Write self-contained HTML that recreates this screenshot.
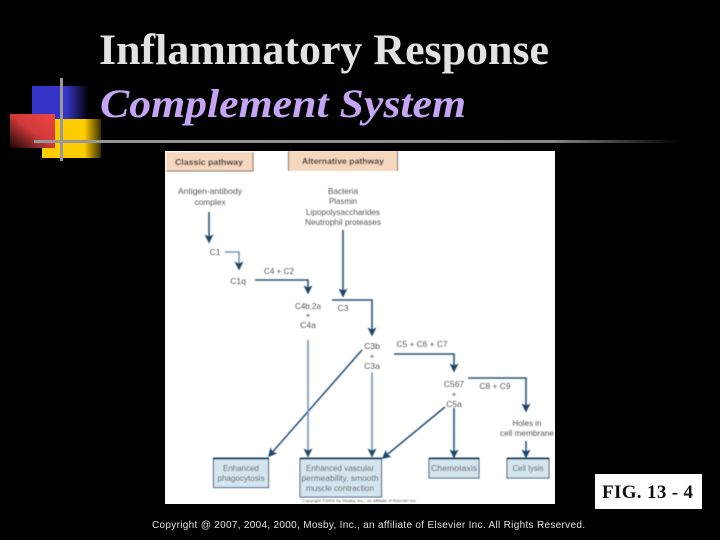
<!DOCTYPE html>
<html>
<head>
<meta charset="utf-8">
<style>
html,body{margin:0;padding:0;background:#000;width:720px;height:540px;overflow:hidden}
svg{display:block}
.s{font-family:"Liberation Sans",sans-serif;font-size:8.5px;fill:#555;text-anchor:middle}
.b{font-family:"Liberation Sans",sans-serif;font-size:8.500px;font-weight:bold;fill:#222;text-anchor:middle}
.l{fill:none;stroke:#2c5378;stroke-width:1.6}
.lt{fill:none;stroke:#6f97b8;stroke-width:1.6}
.box{fill:#d5e5ef;stroke:#2c5378;stroke-width:1}
.top{stroke:#1f4468;stroke-width:2}
</style>
</head>
<body>
<svg width="720" height="540" viewBox="0 0 720 540" xmlns="http://www.w3.org/2000/svg">
<defs>
<linearGradient id="bl" x1="0" x2="1" y1="0" y2="0"><stop offset="0" stop-color="#3434c8"/><stop offset=".6" stop-color="#3434c8"/><stop offset="1" stop-color="#000"/></linearGradient>
<linearGradient id="ye" x1="0" x2="1" y1="0" y2="0"><stop offset="0" stop-color="#ffcc00"/><stop offset=".72" stop-color="#ffcc00"/><stop offset="1" stop-color="#3a3000"/></linearGradient>
<linearGradient id="re" x1="1" x2="0" y1="0" y2="1"><stop offset="0" stop-color="#ee4444"/><stop offset=".5" stop-color="#d03a3a"/><stop offset="1" stop-color="#1a0606"/></linearGradient>
<linearGradient id="hl" x1="0" x2="1" y1="0" y2="0"><stop offset="0" stop-color="#999"/><stop offset=".8" stop-color="#888"/><stop offset="1" stop-color="#000"/></linearGradient>
<marker id="a" markerWidth="9" markerHeight="9" refX="7.5" refY="4.500" orient="auto" markerUnits="userSpaceOnUse"><path d="M0 0L9 4.500L0 9L2 4.500Z" fill="#1f4468"/></marker>
<filter id="f" x="0" y="0" width="100%" height="100%"><feGaussianBlur stdDeviation="0.5"/></filter>
<filter id="g" x="0" y="0" width="100%" height="100%"><feGaussianBlur stdDeviation="0.3"/></filter>
</defs>

<!-- Logo -->
<rect x="32" y="86" width="57" height="34" fill="url(#bl)"/>
<rect x="42" y="119" width="59" height="39" fill="url(#ye)"/>
<rect x="10" y="114" width="45" height="34" fill="url(#re)"/>
<rect x="34" y="140" width="646" height="3" fill="url(#hl)"/>
<rect x="60" y="78" width="3" height="83" fill="#999"/>

<!-- Title -->
<g filter="url(#g)">
<text x="99" y="64" font-family="'Liberation Serif',serif" font-weight="bold" font-size="43" fill="#e2e2e2" textLength="450" lengthAdjust="spacingAndGlyphs">Inflammatory Response</text>
<text x="100" y="117" font-family="'Liberation Serif',serif" font-weight="bold" font-style="italic" font-size="40" fill="#c4a4f4" textLength="366" lengthAdjust="spacingAndGlyphs">Complement System</text>
</g>

<!-- Figure -->
<rect x="165" y="151" width="390" height="353" fill="#fff"/>
<g filter="url(#f)">
<path d="M166 152H253V171H166Z" fill="#f5d7bd"/>
<path d="M166 171H253V152" fill="none" stroke="#7a6c60"/>
<path d="M288 151H398V171H288Z" fill="#f5d7bd"/>
<path d="M288.500 171V151M397.500 151V171" fill="none" stroke="#7a6c60"/>
<text class="b" x="209" y="165" textLength="68" lengthAdjust="spacingAndGlyphs">Classic pathway</text>
<text class="b" x="343" y="164" textLength="82" lengthAdjust="spacingAndGlyphs">Alternative pathway</text>

<text class="s" x="210" y="194" textLength="64" lengthAdjust="spacingAndGlyphs">Antigen-antibody</text>
<text class="s" x="210" y="205" textLength="31" lengthAdjust="spacingAndGlyphs">complex</text>
<text class="s" x="343" y="194" textLength="30" lengthAdjust="spacingAndGlyphs">Bacteria</text>
<text class="s" x="343" y="204" textLength="28" lengthAdjust="spacingAndGlyphs">Plasmin</text>
<text class="s" x="343" y="215" textLength="74" lengthAdjust="spacingAndGlyphs">Lipopolysaccharides</text>
<text class="s" x="343" y="225" textLength="76" lengthAdjust="spacingAndGlyphs">Neutrophil proteases</text>
<text class="s" x="215" y="255">C1</text>
<text class="s" x="238" y="284">C1q</text>
<text class="s" x="279" y="274" textLength="30" lengthAdjust="spacingAndGlyphs">C4 + C2</text>
<text class="s" x="308" y="309" textLength="26" lengthAdjust="spacingAndGlyphs">C4b,2a</text>
<text class="s" x="308" y="318">+</text>
<text class="s" x="308" y="328">C4a</text>
<text class="s" x="343" y="311">C3</text>
<text class="s" x="372" y="349">C3b</text>
<text class="s" x="372" y="359">+</text>
<text class="s" x="372" y="369">C3a</text>
<text class="s" x="422" y="347" textLength="51" lengthAdjust="spacingAndGlyphs">C5 + C6 + C7</text>
<text class="s" x="454" y="387">C567</text>
<text class="s" x="454" y="397">+</text>
<text class="s" x="454" y="407">C5a</text>
<text class="s" x="495" y="389" textLength="31" lengthAdjust="spacingAndGlyphs">C8 + C9</text>
<text class="s" x="527" y="426" textLength="29" lengthAdjust="spacingAndGlyphs">Holes in</text>
<text class="s" x="527" y="436" textLength="54" lengthAdjust="spacingAndGlyphs">cell membrane</text>

<path class="l" d="M209 212V242" marker-end="url(#a)"/>
<path class="lt" d="M225 252H239V269" marker-end="url(#a)"/>
<path class="l" d="M255 280H308V293" marker-end="url(#a)"/>
<path class="l" d="M343 230V296" marker-end="url(#a)"/>
<path class="l" d="M332 300H372V335" marker-end="url(#a)"/>
<path class="l" d="M362 350L269 456" marker-end="url(#a)"/>
<path class="lt" d="M308 340V456" marker-end="url(#a)"/>
<path class="lt" d="M372 372V456" marker-end="url(#a)"/>
<path class="l" d="M394 354H454V371" marker-end="url(#a)"/>
<path class="l" d="M468 378H526V411" marker-end="url(#a)"/>
<path class="l" d="M445 407L383 458" marker-end="url(#a)"/>
<path class="l" d="M454 408V457" marker-end="url(#a)"/>
<path class="l" d="M526 441V457" marker-end="url(#a)"/>

<rect class="box" x="213.500" y="458.500" width="55" height="29"/>
<path class="top" d="M213 458.500H269"/>
<rect class="box" x="300" y="458.500" width="81.500" height="38.500"/>
<path class="top" d="M300 458.500H382"/>
<rect class="box" x="429" y="458.500" width="50" height="19.500"/>
<path class="top" d="M429 458.500H479"/>
<rect class="box" x="507" y="458.500" width="42" height="19.500"/>
<path class="top" d="M507 458.500H549"/>

<text class="s" x="241" y="471" textLength="36" lengthAdjust="spacingAndGlyphs">Enhanced</text>
<text class="s" x="241" y="481" textLength="47" lengthAdjust="spacingAndGlyphs">phagocytosis</text>
<text class="s" x="340" y="471" textLength="68" lengthAdjust="spacingAndGlyphs">Enhanced vascular</text>
<text class="s" x="340" y="481" textLength="77" lengthAdjust="spacingAndGlyphs">permeability, smooth</text>
<text class="s" x="340" y="491" textLength="68" lengthAdjust="spacingAndGlyphs">muscle contraction</text>
<text class="s" x="454" y="471" textLength="46" lengthAdjust="spacingAndGlyphs">Chemotaxis</text>
<text class="s" x="528" y="471" textLength="31" lengthAdjust="spacingAndGlyphs">Cell lysis</text>
<text x="302" y="502" font-family="'Liberation Sans',sans-serif" font-size="4" fill="#555" textLength="115" lengthAdjust="spacingAndGlyphs">Copyright ©2001 by Mosby, Inc., an affiliate of Elsevier Inc.</text>
</g>

<!-- FIG label -->
<rect x="595" y="474" width="107" height="35" fill="#fff"/>
<text x="602" y="498" font-family="'Liberation Serif',serif" font-weight="bold" font-size="19" fill="#111" textLength="91" lengthAdjust="spacing">FIG. 13 - 4</text>

<!-- Copyright -->
<text x="152" y="528" font-family="'Liberation Sans',sans-serif" font-size="10" fill="#e0e0e0" textLength="433" lengthAdjust="spacing">Copyright @ 2007, 2004, 2000, Mosby, Inc., an affiliate of Elsevier Inc. All Rights Reserved.</text>
</svg>
</body>
</html>
